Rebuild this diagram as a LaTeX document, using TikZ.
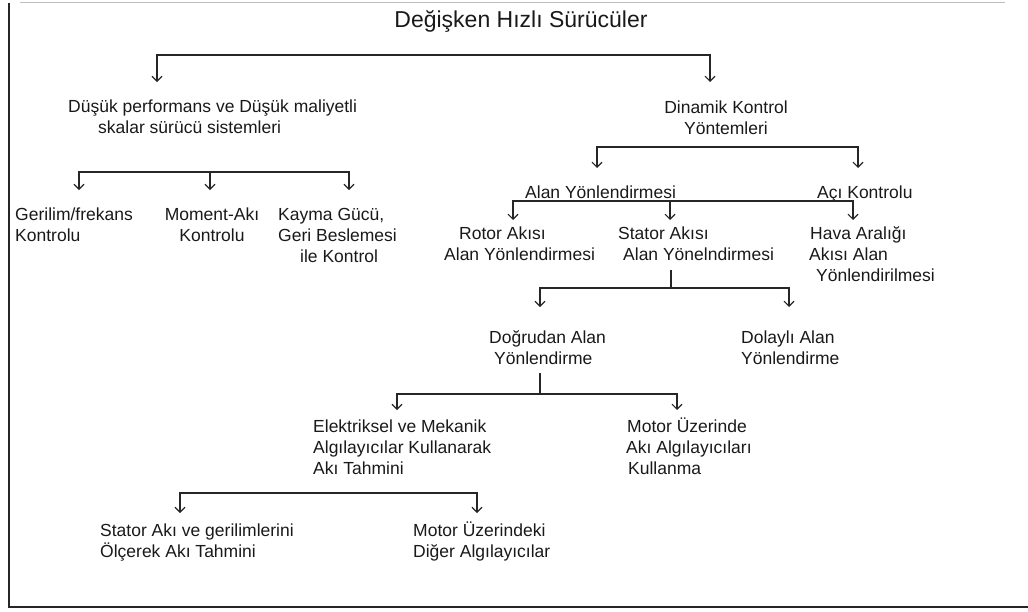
\documentclass[tikz,border=0pt]{standalone}
\usepackage{fontspec}
\setmainfont{Liberation Sans}
\usetikzlibrary{arrows.meta}
\begin{document}
\begin{tikzpicture}[x=1pt,y=-1pt,
  txt/.style={inner sep=0pt, font=\fontsize{17.5}{21}\selectfont, align=left, anchor=base west, text=black!90},
  ctxt/.style={inner sep=0pt, font=\fontsize{17.5}{21}\selectfont, align=center, anchor=base, text=black!90},
  bus/.style={line width=1.2pt, draw=black!85},
  arr/.style={bus, -{Straight Barb[length=5pt,width=10pt,line width=1.1pt]}},
  arrtwo/.style={bus, {Straight Barb[length=5pt,width=10pt,line width=1.1pt]}-{Straight Barb[length=5pt,width=10pt,line width=1.1pt]}},
]
\useasboundingbox (0,0) rectangle (1028,611);
% frame
\draw[line width=1.3pt, black!85] (9,3) -- (9,607) -- (1028,607);
\draw[line width=0.8pt, black!25] (20,2) -- (1005,2);

% texts (multi-line nodes are placed by the baseline of their last line)
\node[inner sep=0pt, anchor=base, font=\fontsize{23}{27}\selectfont, text=black!90] (title) at (521,27) {Değişken Hızlı Sürücüler};
\node[txt] (dusuk) at (68,133) {Düşük performans ve Düşük maliyetli\\\hspace*{30pt}skalar sürücü sistemleri};
\node[ctxt] (dinamik) at (726,134) {Dinamik Kontrol\\Yöntemleri};
\node[txt] (gerilim) at (15,241) {Gerilim/frekans\\Kontrolu};
\node[ctxt] (moment) at (212,241) {Moment-Akı\\Kontrolu};
\node[txt] (kayma) at (278,262) {Kayma Gücü,\\Geri Beslemesi\\\hspace*{22pt}ile Kontrol};
\node[txt] (alan) at (525,198) {Alan Yönlendirmesi};
\node[txt] (aci) at (817,198) {Açı Kontrolu};
\node[txt] (rotor) at (444,260) {\hspace*{15pt}Rotor Akısı\\Alan Yönlendirmesi};
\node[txt] (stator) at (618,260) {Stator Akısı\\\hspace*{5pt}Alan Yönelndirmesi};
\node[txt] (hava) at (809,281) {\hspace*{1pt}Hava Aralığı\\Akısı Alan\\\hspace*{7pt}Yönlendirilmesi};
\node[txt] (dogrudan) at (489,364) {Doğrudan Alan\\\hspace*{5pt}Yönlendirme};
\node[txt] (dolayli) at (741,364) {Dolaylı Alan\\Yönlendirme};
\node[txt] (elektrik) at (313,474) {Elektriksel ve Mekanik\\Algılayıcılar Kullanarak\\Akı Tahmini};
\node[txt] (motora) at (626,474) {\hspace*{1pt}Motor Üzerinde\\Akı Algılayıcıları\\\hspace*{2pt}Kullanma};
\node[txt] (statoraki) at (100,557) {Stator Akı ve gerilimlerini\\Ölçerek Akı Tahmini};
\node[txt] (motorb) at (413,557) {Motor Üzerindeki\\Diğer Algılayıcılar};

% bus 1
\coordinate (b1) at (400,55);
\coordinate (t1a) at (157,82); \coordinate (t1b) at (710,82);
\draw[arrtwo] (t1a) |- (b1) -| (t1b);
% bus 2
\coordinate (b2) at (200,172);
\coordinate (t2a) at (79,190); \coordinate (t2b) at (210,190); \coordinate (t2c) at (349,190);
\draw[arrtwo] (t2a) |- (b2) -| (t2c);
\draw[arr] (t2b |- b2) -- (t2b);
% bus 3
\coordinate (b3) at (700,147);
\coordinate (t3a) at (597,168); \coordinate (t3b) at (858,168);
\draw[arrtwo] (t3a) |- (b3) -| (t3b);
% bus 4
\coordinate (b4) at (700,201);
\coordinate (t4a) at (513,220); \coordinate (t4b) at (670,220); \coordinate (t4c) at (853,220);
\draw[arrtwo] (t4a) |- (b4) -| (t4c);
\draw[arr] (t4b |- b4) -- (t4b);
% bus 5
\coordinate (s5) at (671,270); \coordinate (b5) at (671,288);
\coordinate (t5a) at (540,307); \coordinate (t5b) at (789,307);
\draw[bus] (s5) -- (b5);
\draw[arrtwo] (t5a) |- (b5) -| (t5b);
% bus 6
\coordinate (s6) at (540,373); \coordinate (b6) at (540,394);
\coordinate (t6a) at (397,410); \coordinate (t6b) at (677,410);
\draw[bus] (s6) -- (b6);
\draw[arrtwo] (t6a) |- (b6) -| (t6b);
% bus 7
\coordinate (b7) at (300,493);
\coordinate (t7a) at (180,513); \coordinate (t7b) at (477,513);
\draw[arrtwo] (t7a) |- (b7) -| (t7b);
\end{tikzpicture}
\end{document}
